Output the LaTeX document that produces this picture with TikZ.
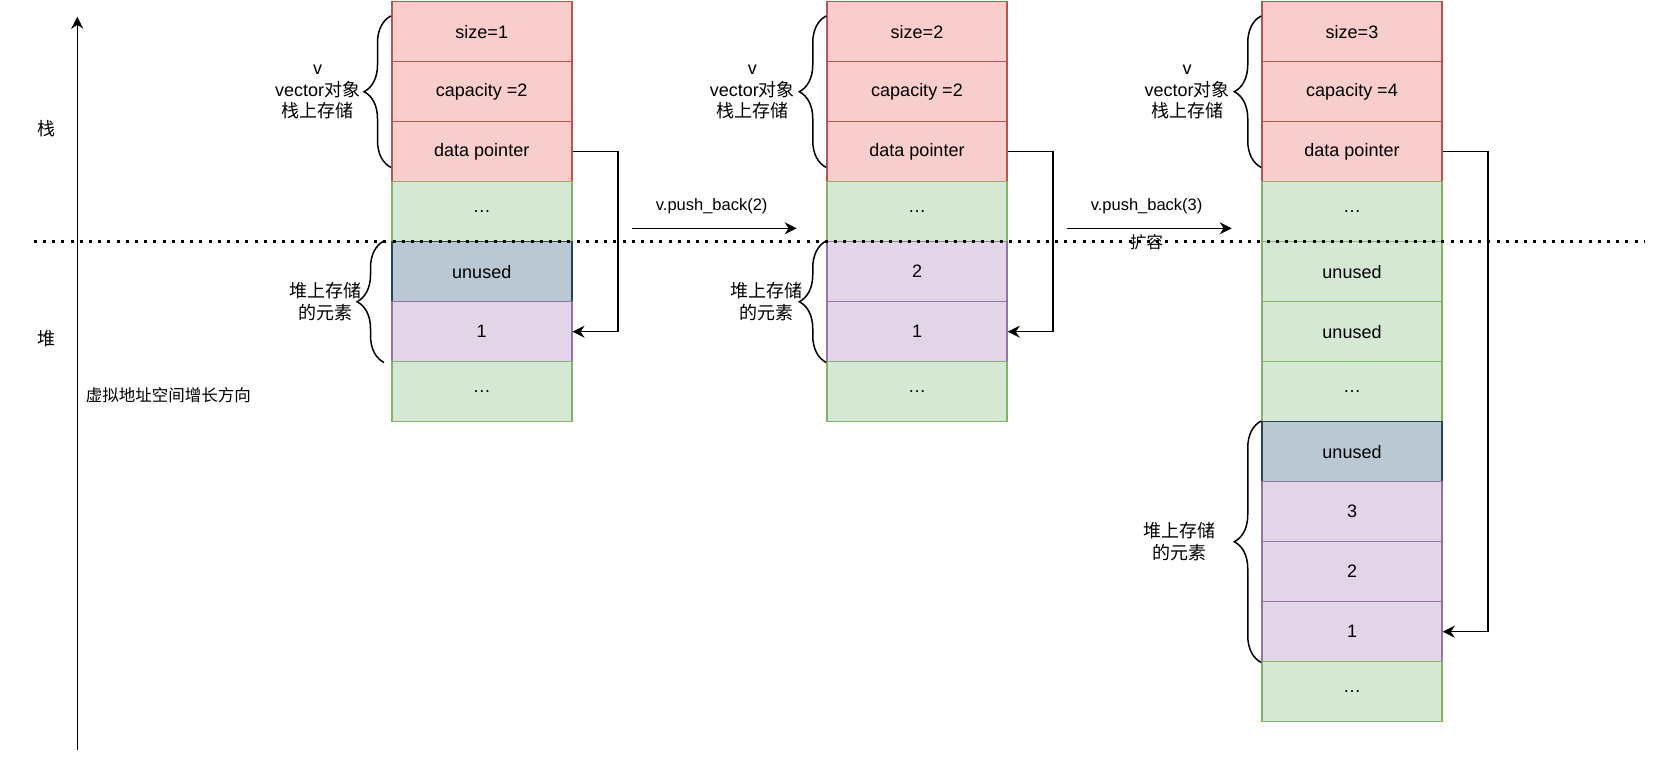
\documentclass[tikz,border=0pt]{standalone}
\usepackage{fontspec}
\setmainfont{Liberation Sans}
\newfontfamily\cjk{Noto Sans CJK SC}
\usetikzlibrary{arrows.meta,decorations.pathreplacing}
\definecolor{CellRed}{HTML}{F8CECC}
\definecolor{EdgeRed}{HTML}{B85450}
\definecolor{CellGreen}{HTML}{D5E8D4}
\definecolor{EdgeGreen}{HTML}{82B366}
\definecolor{CellPurple}{HTML}{E1D5E7}
\definecolor{EdgePurple}{HTML}{9673A6}
\definecolor{CellSlate}{HTML}{BAC8D3}
\definecolor{EdgeSlate}{HTML}{23445D}
\tikzset{
  cell/.style={draw,line width=0.75pt,minimum width=90pt,minimum height=30pt,
    inner sep=0pt,font=\fontsize{9}{11}\selectfont},
  redcell/.style={cell,fill=CellRed,draw=EdgeRed},
  greencell/.style={cell,fill=CellGreen,draw=EdgeGreen},
  purplecell/.style={cell,fill=CellPurple,draw=EdgePurple},
  slatecell/.style={cell,fill=CellSlate,draw=EdgeSlate},
  memo/.style={align=center,inner sep=0pt,font=\fontsize{9}{10.8}\selectfont},
  small/.style={inner sep=0pt,font=\fontsize{8.25}{10}\selectfont},
  brc/.style={decorate,decoration={brace,amplitude=13.5pt},line width=0.75pt},
  link/.style={line width=0.75pt,-{Stealth[length=6pt,width=6pt]}},
}
\begin{document}
\begin{tikzpicture}[x=0.5pt,y=-0.5pt]
  \useasboundingbox (0,0) rectangle (1656,767);
  % address axis
  \coordinate (ax0) at (77.3,750);
  \coordinate (ax1) at (77.3,16.7);
  \draw[link] (ax0) -- (ax1);
  \node[memo] (stk) at (46.5,129) {\cjk 栈};
  \node[memo] (hp) at (46.5,339) {\cjk 堆};
  \node[small] (grow) at (168.4,395) {\cjk 虚拟地址空间增长方向};

  % first state
  \foreach \txt/\sty [count=\i] in {size=1/redcell,capacity =2/redcell,data pointer/redcell,
      \ldots/greencell,unused/slatecell,1/purplecell,\ldots/greencell}
    \node[\sty] (a\i) at (481.75,{31.7+60*(\i-1)}) {\txt};
  % second state
  \foreach \txt/\sty [count=\i] in {size=2/redcell,capacity =2/redcell,data pointer/redcell,
      \ldots/greencell,2/purplecell,1/purplecell,\ldots/greencell}
    \node[\sty] (b\i) at (917,{31.7+60*(\i-1)}) {\txt};
  % third state
  \foreach \txt/\sty [count=\i] in {size=3/redcell,capacity =4/redcell,data pointer/redcell,
      \ldots/greencell,unused/greencell,unused/greencell,\ldots/greencell,unused/slatecell,
      3/purplecell,2/purplecell,1/purplecell,\ldots/greencell}
    \node[\sty] (c\i) at (1352,{31.7+60*(\i-1)}) {\txt};

  % stack / heap border
  \coordinate (sep0) at (33.7,241.7);
  \coordinate (sep1) at (1645,241.7);
  \draw[line width=1.5pt,dash pattern=on 1.5pt off 3.1pt] (sep0) -- (sep1);

  % data pointers
  \draw[link] (a3.east) -- ++(45.3,0) |- (a6.east);
  \draw[link] (b3.east) -- ++(45.3,0) |- (b6.east);
  \draw[link] (c3.east) -- ++(45.3,0) |- (c11.east);

  % braces
  \draw[brc] ([yshift=7.5pt]a3.south west) -- ([yshift=-7.5pt]a1.north west);
  \draw[brc] ([xshift=-3.5pt]a6.south west) -- ([xshift=-3.5pt]a5.north west);
  \draw[brc] ([yshift=7.5pt]b3.south west) -- ([yshift=-7.5pt]b1.north west);
  \draw[brc] (b6.south west) -- (b5.north west);
  \draw[brc] ([yshift=7.5pt]c3.south west) -- ([yshift=-7.5pt]c1.north west);
  \draw[brc] (c11.south west) -- (c8.north west);
  \node[memo] (va) at (317.6,92) {v\\vector{\cjk 对象}\\{\cjk 栈上存储}};
  \node[memo] (ea) at (325,301.7) {\cjk 堆上存储\\\cjk 的元素};
  \node[memo] (vb) at (752.3,92) {v\\vector{\cjk 对象}\\{\cjk 栈上存储}};
  \node[memo] (eb) at (766.7,301.7) {\cjk 堆上存储\\\cjk 的元素};
  \node[memo] (vc) at (1187.2,92) {v\\vector{\cjk 对象}\\{\cjk 栈上存储}};
  \node[memo] (ec) at (1179.5,541.7) {\cjk 堆上存储\\\cjk 的元素};

  % push_back steps
  \coordinate (p1s) at (631.7,228.3);
  \coordinate (p1e) at (796.7,228.3);
  \draw[link] (p1s) -- (p1e);
  \node[small] (op1) at (711.7,206.7) {v.push\_back(2)};
  \coordinate (p2s) at (1066.6,228.3);
  \coordinate (p2e) at (1231.7,228.3);
  \draw[link] (p2s) -- (p2e);
  \node[small] (op2) at (1146.6,206.7) {v.push\_back(3)};
  \node[small] (grow2) at (1146.6,242.7) {\cjk 扩容};
\end{tikzpicture}
\end{document}
